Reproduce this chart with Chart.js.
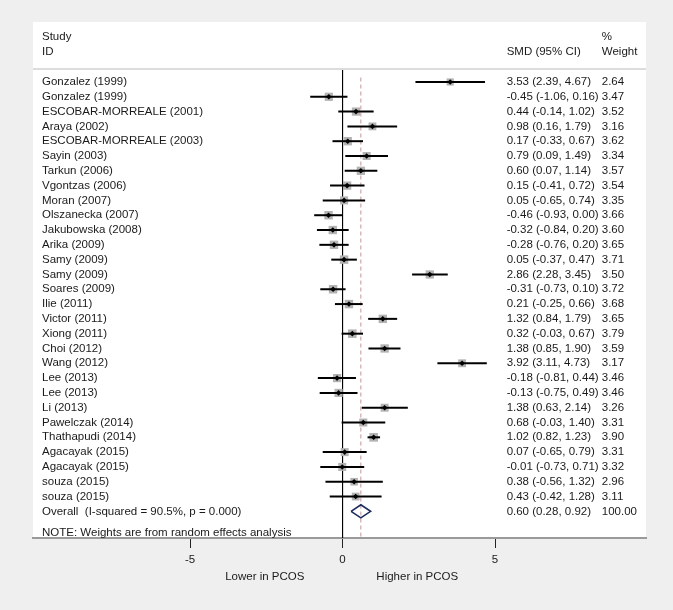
<!DOCTYPE html>
<html>
<head>
<meta charset="utf-8">
<script src="https://cdn.jsdelivr.net/npm/chart.js@4/dist/chart.umd.min.js"></script>
<style>
    body { margin: 0; background: #efefef; }
    canvas { display: block; }
</style>
</head>
<body>
<canvas id="forestChart" width="673" height="610"></canvas>
<script>
// Study data
const studies = [
    'Gonzalez (1999)', 'Gonzalez (1999)', 'ESCOBAR-MORREALE (2001)', 'Araya (2002)',
    'ESCOBAR-MORREALE (2003)', 'Sayin (2003)', 'Tarkun (2006)', 'Vgontzas (2006)',
    'Moran (2007)', 'Olszanecka (2007)', 'Jakubowska (2008)', 'Arika (2009)',
    'Samy (2009)', 'Samy (2009)', 'Soares (2009)', 'Ilie (2011)', 'Victor (2011)',
    'Xiong (2011)', 'Choi (2012)', 'Wang (2012)', 'Lee (2013)', 'Lee (2013)',
    'Li (2013)', 'Pawelczak (2014)', 'Thathapudi (2014)', 'Agacayak (2015)',
    'Agacayak (2015)', 'souza (2015)', 'souza (2015)'
];
const smd = [3.53, -0.45, 0.44, 0.98, 0.17, 0.79, 0.60, 0.15, 0.05, -0.46, -0.32, -0.28, 0.05, 2.86,
    -0.31, 0.21, 1.32, 0.32, 1.38, 3.92, -0.18, -0.13, 1.38, 0.68, 1.02, 0.07, -0.01, 0.38, 0.43];
const ciLow = [2.39, -1.06, -0.14, 0.16, -0.33, 0.09, 0.07, -0.41, -0.65, -0.93, -0.84, -0.76, -0.37, 2.28,
    -0.73, -0.25, 0.84, -0.03, 0.85, 3.11, -0.81, -0.75, 0.63, -0.03, 0.82, -0.65, -0.73, -0.56, -0.42];
const ciHigh = [4.67, 0.16, 1.02, 1.79, 0.67, 1.49, 1.14, 0.72, 0.74, 0.00, 0.20, 0.20, 0.47, 3.45,
    0.10, 0.66, 1.79, 0.67, 1.90, 4.73, 0.44, 0.49, 2.14, 1.40, 1.23, 0.79, 0.71, 1.32, 1.28];
const weights = [2.64, 3.47, 3.52, 3.16, 3.62, 3.34, 3.57, 3.54, 3.35, 3.66, 3.60, 3.65, 3.71, 3.50,
    3.72, 3.68, 3.65, 3.79, 3.59, 3.17, 3.46, 3.46, 3.26, 3.31, 3.90, 3.31, 3.32, 2.96, 3.11];

const overallLabel = 'Overall  (I-squared = 90.5%, p = 0.000)';
const overall = { smd: 0.60, low: 0.28, high: 0.92, weight: 100.00 };
const xTicks = [-5, 0, 5];
const favourLabels = [{ text: 'Lower in PCOS', x: -2.55 }, { text: 'Higher in PCOS', x: 2.45 }];
const noteText = 'NOTE: Weights are from random effects analysis';

const FONT = '11.5px "Liberation Sans", Arial, sans-serif';
const TEXT_COLOR = '#1a1a1a';
const overallRow = studies.length;

const fmt = v => v.toFixed(2);

// Build datasets (lower order = drawn on top)
const datasets = [];

// Zero reference line
datasets.push({
    type: 'line', order: 5,
    data: [{ x: 0, y: -0.85 }, { x: 0, y: 31 }],
    borderColor: '#000', borderWidth: 1, pointRadius: 0
});

// Pooled estimate dashed line
datasets.push({
    type: 'line', order: 5,
    data: [{ x: overall.smd, y: -0.3 }, { x: overall.smd, y: 31 }],
    borderColor: '#c49494', borderWidth: 1, borderDash: [4, 3], pointRadius: 0
});

// Weight boxes
datasets.push({
    type: 'scatter', order: 4,
    data: smd.map((v, i) => ({ x: v, y: i })),
    pointStyle: 'rect',
    pointRadius: weights.map(w => 4.4 * Math.sqrt(w) / Math.SQRT2),
    backgroundColor: '#b3b3b3', borderWidth: 0
});

// Confidence interval lines
studies.forEach((s, i) => {
    datasets.push({
        type: 'line', order: 3,
        data: [{ x: ciLow[i], y: i }, { x: ciHigh[i], y: i }],
        borderColor: '#000', borderWidth: 2, pointRadius: 0
    });
});

// Point estimates
datasets.push({
    type: 'scatter', order: 1,
    data: smd.map((v, i) => ({ x: v, y: i })),
    pointStyle: 'rectRot', pointRadius: 2.8,
    backgroundColor: '#000', borderWidth: 0
});

// Overall diamond
datasets.push({
    type: 'line', order: 1,
    data: [
        { x: overall.low, y: overallRow },
        { x: overall.smd, y: overallRow - 0.44 },
        { x: overall.high, y: overallRow },
        { x: overall.smd, y: overallRow + 0.44 },
        { x: overall.low, y: overallRow }
    ],
    borderColor: '#1d2a5e', borderWidth: 1.6, pointRadius: 0, fill: false, tension: 0
});

// Background + text columns
const forestText = {
    id: 'forestText',
    beforeDraw(chart) {
        const { ctx, chartArea } = chart;
        ctx.save();
        ctx.fillStyle = '#efefef';
        ctx.fillRect(0, 0, chart.width, chart.height);
        ctx.fillStyle = '#fff';
        ctx.fillRect(chartArea.left, chartArea.top, chartArea.right - chartArea.left, chartArea.bottom - chartArea.top);
        ctx.restore();
    },
    afterDraw(chart) {
        const { ctx, chartArea, scales } = chart;
        const y = v => scales.y.getPixelForValue(v);
        const xName = chartArea.left + 9;
        const xCI = scales.x.getPixelForValue(5.38);
        const xW = scales.x.getPixelForValue(8.5);

        ctx.save();
        // header separator
        ctx.strokeStyle = '#dcdcdc';
        ctx.lineWidth = 2;
        ctx.beginPath();
        ctx.moveTo(chartArea.left, y(-0.88));
        ctx.lineTo(chartArea.right, y(-0.88));
        ctx.stroke();

        ctx.font = FONT;
        ctx.fillStyle = TEXT_COLOR;
        ctx.textBaseline = 'middle';
        ctx.textAlign = 'left';

        ctx.fillText('Study', xName, y(-3.05));
        ctx.fillText('ID', xName, y(-2.03));
        ctx.fillText('SMD (95% CI)', xCI, y(-2.03));
        ctx.fillText('%', xW, y(-3.05));
        ctx.fillText('Weight', xW, y(-2.03));

        studies.forEach((s, i) => {
            ctx.fillText(s, xName, y(i));
            ctx.fillText(`${fmt(smd[i])} (${fmt(ciLow[i])}, ${fmt(ciHigh[i])})`, xCI, y(i));
            ctx.fillText(fmt(weights[i]), xW, y(i));
        });

        ctx.fillText(overallLabel, xName, y(overallRow));
        ctx.fillText(`${fmt(overall.smd)} (${fmt(overall.low)}, ${fmt(overall.high)})`, xCI, y(overallRow));
        ctx.fillText(fmt(overall.weight), xW, y(overallRow));

        ctx.fillText(noteText, xName, y(30.45));

        // favours labels under the axis
        ctx.textAlign = 'center';
        favourLabels.forEach(f => {
            ctx.fillText(f.text, scales.x.getPixelForValue(f.x), chartArea.bottom + 39);
        });
        ctx.restore();
    }
};

const forestChart = new Chart(document.getElementById('forestChart'), {
    type: 'scatter',
    data: { datasets: datasets },
    plugins: [forestText],
    options: {
        responsive: false,
        animation: false,
        layout: { padding: { left: 33, right: 27, top: 22, bottom: 0 } },
        plugins: {
            legend: { display: false },
            tooltip: { enabled: false }
        },
        scales: {
            x: {
                type: 'linear',
                min: -10.15,
                max: 9.95,
                afterBuildTicks: scale => { scale.ticks = xTicks.map(v => ({ value: v })); },
                afterFit: scale => { scale.height = 72; },
                grid: { drawOnChartArea: false, drawTicks: true, tickLength: 10, color: '#222' },
                border: { display: true, color: '#9a9a9a', width: 2 },
                ticks: {
                    color: TEXT_COLOR,
                    font: { family: '"Liberation Sans", Arial, sans-serif', size: 11.5 },
                    padding: 5,
                    maxRotation: 0
                }
            },
            y: {
                type: 'linear',
                display: false,
                reverse: true,
                min: -4.05,
                max: 30.8
            }
        }
    }
});
</script>
</body>
</html>
